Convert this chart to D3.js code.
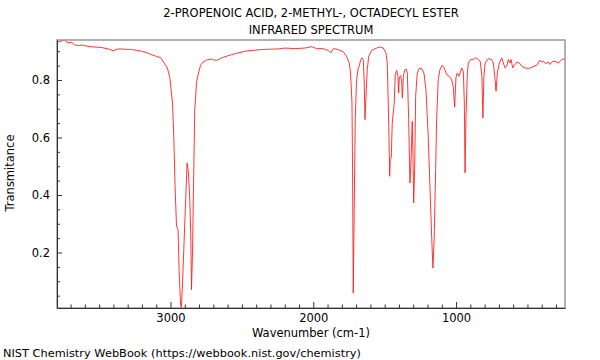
<!DOCTYPE html>
<html><head><meta charset="utf-8">
<script src="https://cdn.jsdelivr.net/npm/d3@7"></script>
<style>body{margin:0;background:#fff}text{font-family:"DejaVu Sans",sans-serif}</style>
</head><body><svg id="c" width="600" height="360"></svg>
<script>
const titleLines = ["2-PROPENOIC ACID, 2-METHYL-, OCTADECYL ESTER", "INFRARED SPECTRUM"];
const xLabel = "Wavenumber (cm-1)";
const yLabel = "Transmitance";
const footer = "NIST Chemistry WebBook (https://webbook.nist.gov/chemistry)";
const xTicks = [3000, 2000, 1000];
const yTicks = [0.2, 0.4, 0.6, 0.8];
const wavenumber = [3797,3769,3741,3718,3692,3671,3648,3615,3577,3545,3507,3474,3437,3402,3367,3320,3273,3236,3203,3166,3133,3098,3068,3040,3022,3005,2986,2977,2968,2958,2947,2940,2930,2924,2916,2907,2893,2884,2874,2865,2858,2853,2846,2837,2830,2818,2807,2790,2772,2748,2713,2694,2671,2643,2573,2479,2362,2246,2199,2129,2059,2012,1977,1931,1896,1877,1860,1825,1790,1767,1748,1739,1729,1725,1720,1713,1706,1697,1685,1678,1668,1659,1650,1643,1638,1631,1622,1612,1591,1556,1533,1510,1491,1482,1475,1470,1465,1461,1454,1447,1440,1433,1426,1416,1407,1402,1398,1388,1381,1376,1369,1358,1348,1341,1332,1323,1316,1307,1302,1297,1290,1283,1272,1258,1241,1225,1211,1195,1183,1171,1162,1153,1143,1136,1125,1113,1097,1083,1066,1048,1031,1020,1010,1001,992,978,961,949,942,937,931,921,914,898,880,863,844,831,819,812,805,796,774,750,739,729,720,711,697,680,669,657,645,634,622,615,603,592,575,557,540,517,494,477,454,435,412,400,389,370,354,342,323,307,284,260,244,230];
const transmittance = [0.932,0.935,0.938,0.929,0.931,0.922,0.920,0.921,0.917,0.915,0.914,0.912,0.908,0.902,0.908,0.907,0.906,0.903,0.900,0.895,0.888,0.882,0.877,0.855,0.842,0.809,0.720,0.604,0.430,0.291,0.280,0.141,0.024,0.003,0.094,0.210,0.396,0.511,0.477,0.384,0.256,0.071,0.198,0.488,0.697,0.790,0.819,0.851,0.862,0.869,0.873,0.869,0.869,0.877,0.888,0.900,0.906,0.908,0.911,0.909,0.911,0.916,0.909,0.909,0.903,0.894,0.909,0.906,0.898,0.882,0.859,0.824,0.720,0.488,0.059,0.372,0.662,0.801,0.842,0.848,0.871,0.877,0.871,0.790,0.662,0.743,0.836,0.882,0.903,0.911,0.915,0.911,0.894,0.859,0.720,0.604,0.465,0.523,0.529,0.650,0.685,0.720,0.819,0.833,0.813,0.755,0.807,0.815,0.796,0.737,0.816,0.836,0.837,0.823,0.662,0.442,0.511,0.656,0.546,0.372,0.488,0.743,0.824,0.840,0.840,0.824,0.767,0.604,0.430,0.256,0.146,0.256,0.488,0.662,0.801,0.836,0.851,0.842,0.819,0.813,0.801,0.778,0.706,0.807,0.824,0.813,0.842,0.830,0.720,0.477,0.662,0.824,0.859,0.871,0.871,0.877,0.871,0.865,0.813,0.668,0.813,0.859,0.874,0.871,0.859,0.813,0.761,0.824,0.859,0.877,0.859,0.842,0.848,0.871,0.859,0.871,0.842,0.851,0.862,0.859,0.848,0.842,0.840,0.842,0.848,0.851,0.869,0.862,0.865,0.857,0.863,0.854,0.865,0.865,0.859,0.871,0.874,0.871];

const svg = d3.select("#c");
const L = 57, R = 565, T = 40, B = 308;
const x = d3.scaleLinear().domain([3795, 237]).range([L, R]);
const y = d3.scaleLinear().domain([0.007, 0.939]).range([B, T]);

svg.append("text").attr("x", 311).attr("y", 17).attr("text-anchor","middle").attr("font-size",11.5).text(titleLines[0]);
svg.append("text").attr("x", 311).attr("y", 34).attr("text-anchor","middle").attr("font-size",11.5).text(titleLines[1]);

svg.append("defs").append("clipPath").attr("id","clip").append("rect").attr("x",L).attr("y",T).attr("width",R-L).attr("height",B-T);

const data = wavenumber.map((w,i)=>[w, transmittance[i]]);
svg.append("path").datum(data).attr("clip-path","url(#clip)")
  .attr("fill","none").attr("stroke","#ff2020").attr("stroke-width",0.9)
  .attr("d", d3.line().x(d=>x(d[0])).y(d=>y(d[1])));

// frame
svg.append("rect").attr("x",L).attr("y",T).attr("width",R-L).attr("height",B-T)
  .attr("fill","none").attr("stroke","#999").attr("stroke-width",1.5);

// minor ticks
const xMinor = d3.range(300, 3800, 100).filter(v => !xTicks.includes(v));
const yMinor = d3.range(0.05, 0.93, 0.05).map(v=>+v.toFixed(2)).filter(v => !yTicks.includes(v));

const xAxis = svg.append("g").attr("transform",`translate(0,${B})`);
xAxis.call(d3.axisBottom(x).tickValues(xTicks).tickSizeInner(-6).tickSizeOuter(0).tickPadding(6).tickFormat(d3.format("d")));
xAxis.append("g").call(d3.axisBottom(x).tickValues(xMinor).tickSizeInner(-3.5).tickSizeOuter(0).tickFormat(""));
const yAxis = svg.append("g").attr("transform",`translate(${L},0)`);
yAxis.call(d3.axisLeft(y).tickValues(yTicks).tickSizeInner(-5).tickSizeOuter(0).tickPadding(7).tickFormat(d3.format(".1f")));
yAxis.append("g").call(d3.axisLeft(y).tickValues(yMinor).tickSizeInner(-3).tickSizeOuter(0).tickFormat(""));
svg.selectAll(".domain").attr("stroke","#333");
svg.selectAll(".tick line").attr("stroke","#333");
svg.selectAll(".tick text").attr("font-size",11.5).attr("font-family","DejaVu Sans").attr("fill","#000");
svg.selectAll("g g .domain").remove();

svg.append("text").attr("x", 311).attr("y", 337).attr("text-anchor","middle").attr("font-size",11.5).text(xLabel);
svg.append("text").attr("transform","translate(14,173) rotate(-90)").attr("text-anchor","middle").attr("font-size",11.5).text(yLabel);
svg.append("text").attr("x", 3).attr("y", 357).attr("font-size",11.3).attr("textLength",358).text(footer);
</script></body></html>
